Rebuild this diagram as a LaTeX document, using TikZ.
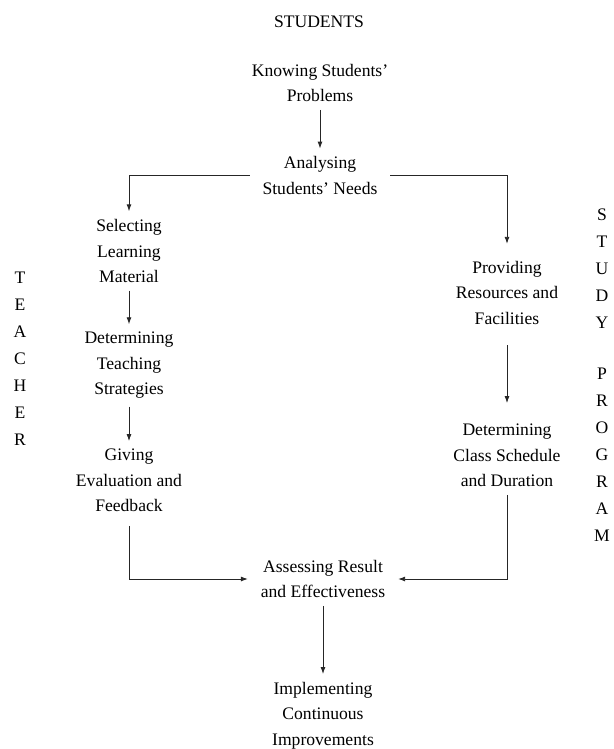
\documentclass[tikz,border=0pt]{standalone}
\usepackage{fontspec}
\setmainfont{Liberation Serif}
\usetikzlibrary{arrows.meta, positioning}
\tikzset{
    >={Latex[length=7pt,width=5pt]}, % small filled arrow heads
    stepnode/.style={align=center, inner sep=2pt, outer xsep=11pt, outer ysep=6pt}, % one step of the cycle
    sidelabel/.style={align=center, inner sep=0pt, font=\fontsize{17.6}{27}\selectfont}, % letters stacked one per line
    flow/.style={->, line width=0.9pt, draw=black!85}
}

\begin{document}
\begin{tikzpicture}[every node/.style={font=\fontsize{17.6}{25.5}\selectfont, text=black}]
        \useasboundingbox (0,0) rectangle (613pt,-749pt);

        \node[stepnode] (students) at (319pt,-21.5pt) {STUDENTS};
        \node[stepnode,on grid,below=61.5pt of students,xshift=1pt] (know) {Knowing Students'\\Problems};
        \node[stepnode,on grid,below=92.5pt of know] (analyse) {Analysing\\Students' Needs};
        \node[stepnode,on grid,below left=75.5pt and 191pt of analyse] (select) {Selecting\\Learning\\Material};
        \node[stepnode,on grid,below=114.5pt of select] (strat) {Determining\\Teaching\\Strategies};
        \node[stepnode,on grid,below=115pt of strat] (give) {Giving\\Evaluation and\\Feedback};
        \node[stepnode,on grid,below right=117pt and 187pt of analyse] (provide) {Providing\\Resources and\\Facilities};
        \node[stepnode,on grid,below=163pt of provide] (sched) {Determining\\Class Schedule\\and Duration};
        \node[stepnode,on grid,below=403.5pt of analyse,xshift=3pt] (assess) {Assessing Result\\and Effectiveness};
        \node[stepnode,on grid,below=136.5pt of assess] (impl) {Implementing\\Continuous\\Improvements};
        \node[sidelabel,on grid,left=109pt of strat,yshift=6.5pt] (teacher) {T\\E\\A\\C\\H\\E\\R};
        \node[sidelabel,on grid,right=95pt of provide,yshift=-82.5pt] (study) {S\\T\\U\\D\\Y\\[24pt]P\\R\\O\\G\\R\\A\\M};

        \draw[flow] (know) -- (analyse);
        \draw[flow] (analyse) -| (select);
        \draw[flow,shorten >=9pt] (analyse) -| (provide);
        \draw[flow] (select) -- (strat);
        \draw[flow] (strat) -- (give);
        \draw[flow,shorten <=13pt,shorten >=13pt] (provide) -- (sched);
        \draw[flow,shorten <=6pt] (give) |- (assess);
        \draw[flow] (sched) |- (assess);
        \draw[flow] (assess) -- (impl);

    \end{tikzpicture}
\end{document}
